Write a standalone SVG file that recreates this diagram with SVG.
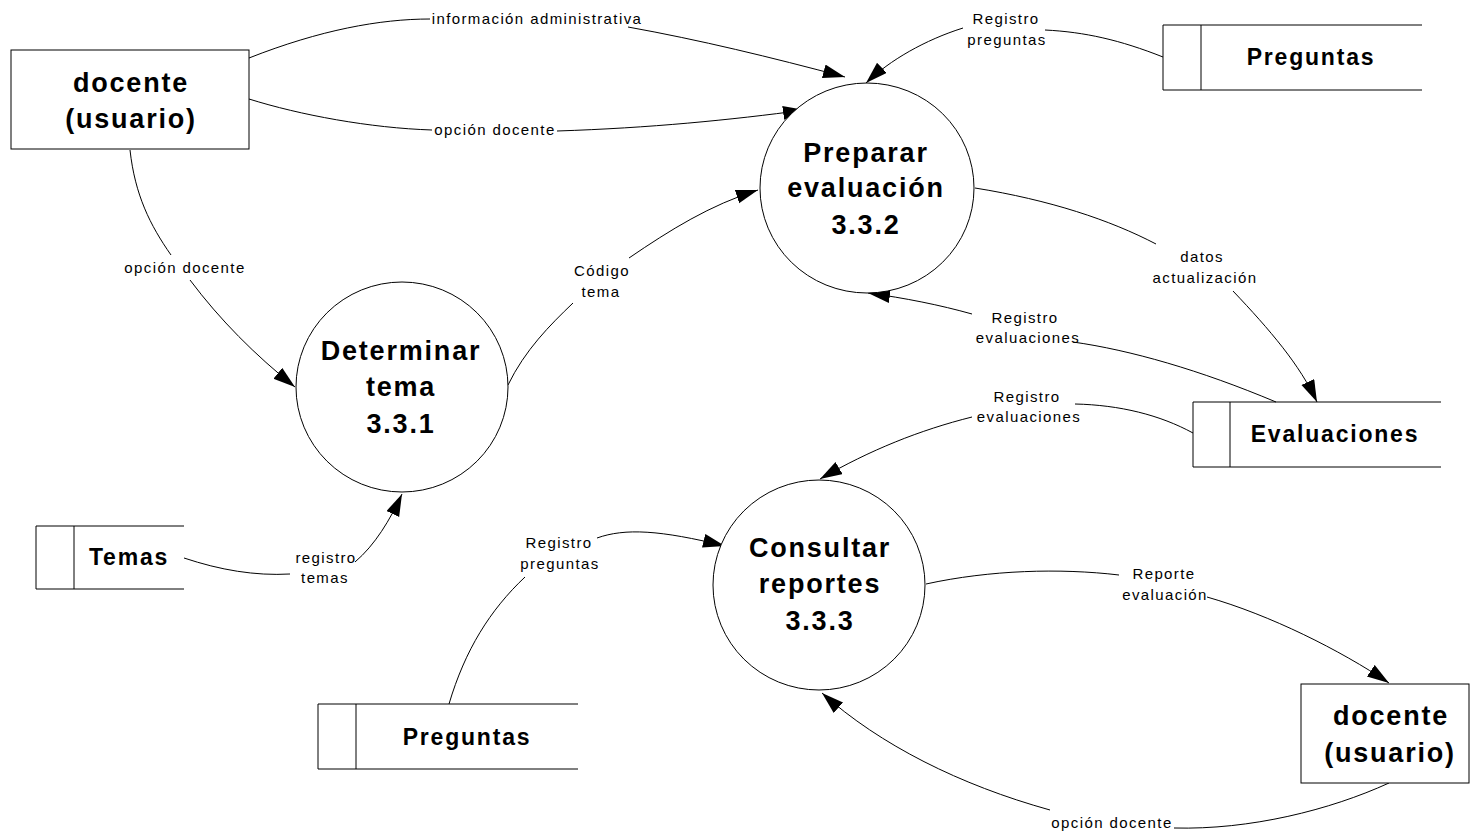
<svg xmlns="http://www.w3.org/2000/svg" width="1473" height="836" viewBox="0 0 1473 836">
  <style>
    .shape { fill: #fff; stroke: #000; stroke-width: 1; }
    .edge { fill: none; stroke: #000; stroke-width: 1; }
    .title { font-family: "Liberation Sans", Arial, sans-serif; font-weight: bold; font-size: 27px; letter-spacing: 1.8px; text-anchor: middle; fill: #000; }
    .store { font-family: "Liberation Sans", Arial, sans-serif; font-weight: bold; font-size: 23px; letter-spacing: 1.8px; text-anchor: middle; fill: #000; }
    .label { font-family: "Liberation Sans", Arial, sans-serif; font-size: 15px; letter-spacing: 1.4px; text-anchor: middle; fill: #000; }
  </style>
  <defs>
    <marker id="arrow" markerUnits="userSpaceOnUse" markerWidth="24" markerHeight="16" refX="22" refY="7" orient="auto">
      <path d="M0,0 L22,7 L0,14 z" fill="#000"/>
    </marker>
  </defs>
  <rect width="1473" height="836" fill="#fff"/>

  <!-- data flows -->
  <g id="connectors">
    <!-- información administrativa -->
    <path class="edge" d="M249,58 C320,30 380,19 430,19"/>
    <path class="edge" d="M628,27 C700,40 770,57 845,77" marker-end="url(#arrow)"/>
    <text class="label" x="537" y="24">información administrativa</text>

    <!-- opción docente (to 3.3.2) -->
    <path class="edge" d="M249,99 C300,115 370,128 432,130"/>
    <path class="edge" d="M557,131 C650,128 730,120 805,110" marker-end="url(#arrow)"/>
    <text class="label" x="495" y="135">opción docente</text>

    <!-- Registro preguntas (to 3.3.2) -->
    <path class="edge" d="M1163,57 C1120,40 1085,32 1045,30"/>
    <path class="edge" d="M963,28 C925,40 890,60 866,83" marker-end="url(#arrow)"/>
    <text class="label" x="1006" y="24">Registro</text>
    <text class="label" x="1007" y="45">preguntas</text>

    <!-- Código tema -->
    <path class="edge" d="M508,385 C525,350 550,325 573,303"/>
    <path class="edge" d="M629,258 C670,230 710,205 758,190" marker-end="url(#arrow)"/>
    <text class="label" x="602" y="276">Código</text>
    <text class="label" x="601" y="297">tema</text>

    <!-- opción docente (to 3.3.1) -->
    <path class="edge" d="M130,150 C135,195 150,225 171,255"/>
    <path class="edge" d="M190,280 C220,320 255,355 295,387" marker-end="url(#arrow)"/>
    <text class="label" x="185" y="273">opción docente</text>

    <!-- registro temas -->
    <path class="edge" d="M184,558 C220,570 255,576 290,574"/>
    <path class="edge" d="M355,562 C375,545 390,520 402,494" marker-end="url(#arrow)"/>
    <text class="label" x="326" y="563">registro</text>
    <text class="label" x="325" y="583">temas</text>

    <!-- datos actualización -->
    <path class="edge" d="M975,188 C1050,200 1110,220 1156,244"/>
    <path class="edge" d="M1233,291 C1270,330 1300,365 1317,402" marker-end="url(#arrow)"/>
    <text class="label" x="1202" y="262">datos</text>
    <text class="label" x="1205" y="283">actualización</text>

    <!-- Registro evaluaciones (to 3.3.2) -->
    <path class="edge" d="M1276,402 C1200,370 1130,350 1073,342"/>
    <path class="edge" d="M972,314 C940,305 905,298 868,293" marker-end="url(#arrow)"/>
    <text class="label" x="1025" y="323">Registro</text>
    <text class="label" x="1028" y="343">evaluaciones</text>

    <!-- Registro evaluaciones (to 3.3.3) -->
    <path class="edge" d="M1193,433 C1160,415 1120,405 1075,404"/>
    <path class="edge" d="M972,417 C920,430 870,450 820,479" marker-end="url(#arrow)"/>
    <text class="label" x="1027" y="402">Registro</text>
    <text class="label" x="1029" y="422">evaluaciones</text>

    <!-- Registro preguntas (to 3.3.3) -->
    <path class="edge" d="M449,704 C465,650 490,610 525,577"/>
    <path class="edge" d="M597,538 C625,528 660,530 725,546" marker-end="url(#arrow)"/>
    <text class="label" x="559" y="548">Registro</text>
    <text class="label" x="560" y="569">preguntas</text>

    <!-- Reporte evaluación -->
    <path class="edge" d="M926,584 C990,570 1060,568 1119,575"/>
    <path class="edge" d="M1207,597 C1270,615 1340,650 1389,683" marker-end="url(#arrow)"/>
    <text class="label" x="1164" y="579">Reporte</text>
    <text class="label" x="1165" y="600">evaluación</text>

    <!-- opción docente (to 3.3.3) -->
    <path class="edge" d="M1389,783 C1330,810 1250,830 1174,828"/>
    <path class="edge" d="M1050,810 C960,785 880,745 822,693" marker-end="url(#arrow)"/>
    <text class="label" x="1112" y="828">opción docente</text>
  </g>

  <!-- external entity: docente (top) -->
  <g id="docente-1">
    <rect class="shape" x="11" y="50" width="238" height="99"/>
    <text class="title" x="131" y="92">docente</text>
    <text class="title" x="131" y="128">(usuario)</text>
  </g>

  <!-- external entity: docente (bottom) -->
  <g id="docente-2">
    <rect class="shape" x="1301" y="684" width="168" height="99"/>
    <text class="title" x="1391" y="725">docente</text>
    <text class="title" x="1390" y="762">(usuario)</text>
  </g>

  <!-- process 3.3.1 -->
  <g id="proc-331">
    <ellipse class="shape" cx="402" cy="387" rx="106" ry="105"/>
    <text class="title" x="401" y="360">Determinar</text>
    <text class="title" x="401" y="396">tema</text>
    <text class="title" x="401" y="433">3.3.1</text>
  </g>

  <!-- process 3.3.2 -->
  <g id="proc-332">
    <ellipse class="shape" cx="867" cy="188" rx="107" ry="105"/>
    <text class="title" x="866" y="162">Preparar</text>
    <text class="title" x="866" y="197">evaluación</text>
    <text class="title" x="866" y="234">3.3.2</text>
  </g>

  <!-- process 3.3.3 -->
  <g id="proc-333">
    <ellipse class="shape" cx="819" cy="585" rx="106" ry="105"/>
    <text class="title" x="820" y="557">Consultar</text>
    <text class="title" x="820" y="593">reportes</text>
    <text class="title" x="820" y="630">3.3.3</text>
  </g>

  <!-- data store: Preguntas (top) -->
  <g id="store-preguntas-1">
    <path class="edge" d="M1422,25 H1163 V90 H1422 M1201,25 V90"/>
    <text class="store" x="1311" y="65">Preguntas</text>
  </g>

  <!-- data store: Evaluaciones -->
  <g id="store-evaluaciones">
    <path class="edge" d="M1441,402 H1193 V467 H1441 M1230,402 V467"/>
    <text class="store" x="1335" y="442">Evaluaciones</text>
  </g>

  <!-- data store: Temas -->
  <g id="store-temas">
    <path class="edge" d="M184,526 H36 V589 H184 M74,526 V589"/>
    <text class="store" x="129" y="565">Temas</text>
  </g>

  <!-- data store: Preguntas (bottom) -->
  <g id="store-preguntas-2">
    <path class="edge" d="M578,704 H318 V769 H578 M356,704 V769"/>
    <text class="store" x="467" y="745">Preguntas</text>
  </g>
</svg>
